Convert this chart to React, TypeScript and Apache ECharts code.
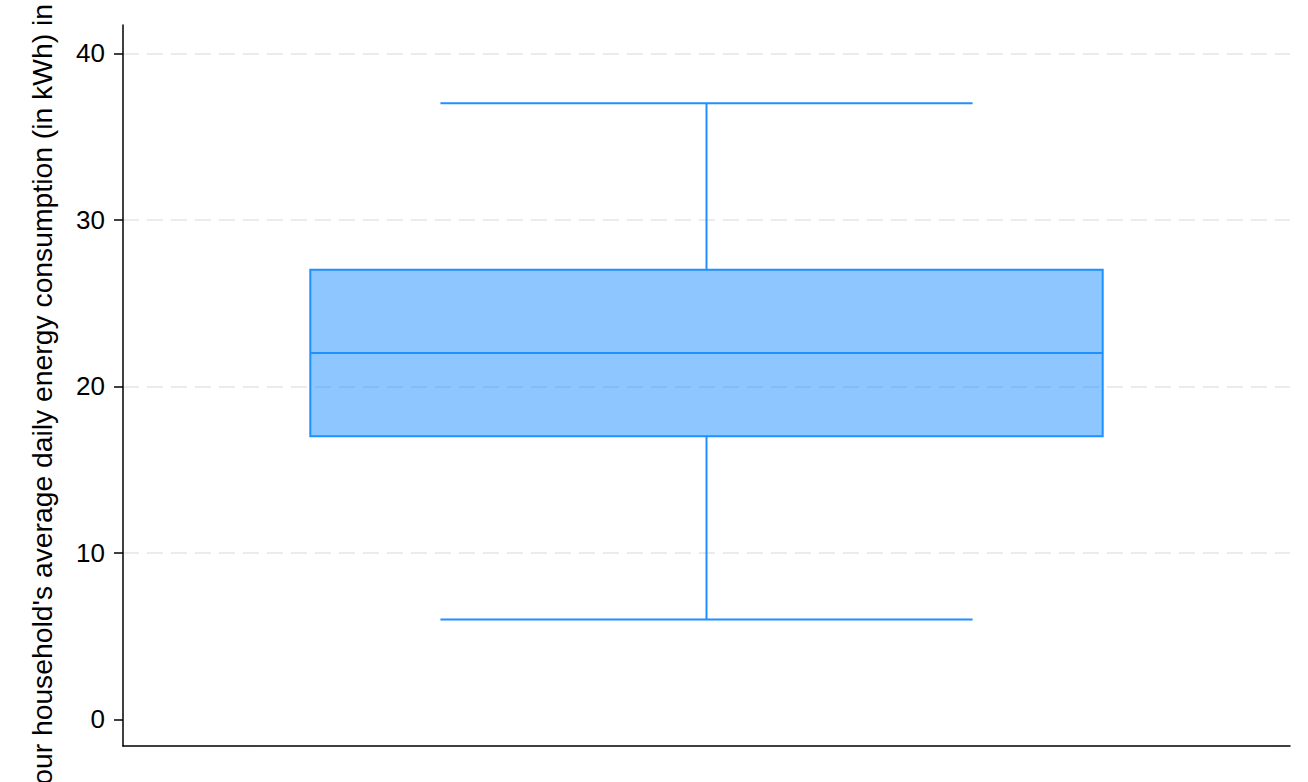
import { useEffect, useRef } from 'react'
import * as echarts from 'echarts'

// one box: min, Q1, median, Q3, max
const categories = ['']
const boxStats = [[6, 17, 22, 27, 37]]
const yTicks = [0, 10, 20, 30, 40]
const gridValues = [10, 20, 30, 40]
const yAxisTitle = "Your household's average daily energy consumption (in kWh) in"

const FONT = "'Liberation Sans', Arial, sans-serif"
const EDGE = '#1E90FF'
const Y_MIN = -1.6
const Y_MAX = 41.7

export default function App() {
  const ref = useRef<HTMLDivElement | null>(null)

  useEffect(() => {
    if (!ref.current) return
    const chart = echarts.init(ref.current, undefined, { renderer: 'svg' })

    const option = {
      animation: false,
      textStyle: { fontFamily: FONT },
      grid: { left: 123, right: 18, top: 25, bottom: 36 },
      xAxis: {
        type: 'category',
        data: categories,
        axisLine: { onZero: false, lineStyle: { color: '#000', width: 1.5 } },
        axisTick: { show: false },
        axisLabel: { show: false },
        splitLine: { show: false },
      },
      yAxis: [
        {
          type: 'value',
          min: Y_MIN,
          max: Y_MAX,
          axisLine: { show: true, lineStyle: { color: '#000', width: 1.5 } },
          axisTick: { show: true, length: 9, customValues: yTicks, lineStyle: { color: '#000', width: 1.5 } },
          axisLabel: { customValues: yTicks, margin: 18, fontSize: 26, color: '#000', fontFamily: FONT },
          splitLine: { show: false },
        },
        {
          // only carries the dashed grid lines (none at 0)
          type: 'value',
          min: Y_MIN,
          max: Y_MAX,
          position: 'left',
          axisLine: { show: false },
          axisTick: { show: false, customValues: gridValues },
          axisLabel: { show: false, customValues: gridValues },
          splitLine: {
            show: true,
            lineStyle: { color: '#ebebeb', width: 2, type: [16, 8] },
          },
        },
      ],
      graphic: [
        {
          type: 'text',
          x: 42,
          y: 4,
          rotation: Math.PI / 2,
          style: {
            text: yAxisTitle,
            font: `28.3px ${FONT}`,
            fill: '#000',
            textAlign: 'right',
            textVerticalAlign: 'middle',
          },
        },
      ],
      series: [
        {
          type: 'custom',
          data: boxStats.map((s, i) => [i, ...s]),
          encode: { x: 0, y: [1, 2, 3, 4, 5] },
          renderItem: (_params: any, api: any) => {
            const xi = api.value(0)
            const lo = api.coord([xi, api.value(1)])
            const q1 = api.coord([xi, api.value(2)])
            const med = api.coord([xi, api.value(3)])
            const q3 = api.coord([xi, api.value(4)])
            const hi = api.coord([xi, api.value(5)])
            const band = api.size([1, 0])[0]
            const bw = (band * 0.679) / 2
            const cw = (band * 0.456) / 2
            const cx = lo[0]
            const ls = { stroke: EDGE, lineWidth: 2 }
            return {
              type: 'group',
              children: [
                { type: 'line', shape: { x1: cx, y1: q3[1], x2: cx, y2: hi[1] }, style: ls },
                { type: 'line', shape: { x1: cx, y1: q1[1], x2: cx, y2: lo[1] }, style: ls },
                { type: 'line', shape: { x1: cx - cw, y1: hi[1], x2: cx + cw, y2: hi[1] }, style: ls },
                { type: 'line', shape: { x1: cx - cw, y1: lo[1], x2: cx + cw, y2: lo[1] }, style: ls },
                {
                  type: 'rect',
                  shape: { x: cx - bw, y: q3[1], width: bw * 2, height: q1[1] - q3[1] },
                  style: { fill: 'rgba(30,144,255,0.5)', stroke: EDGE, lineWidth: 2 },
                },
                { type: 'line', shape: { x1: cx - bw, y1: med[1], x2: cx + bw, y2: med[1] }, style: ls },
              ],
            }
          },
        },
      ],
    }

    chart.setOption(option as any)
    return () => chart.dispose()
  }, [])

  return <div ref={ref} style={{ position: 'absolute', left: 0, top: 0, width: 1308, height: 782 }} />
}
